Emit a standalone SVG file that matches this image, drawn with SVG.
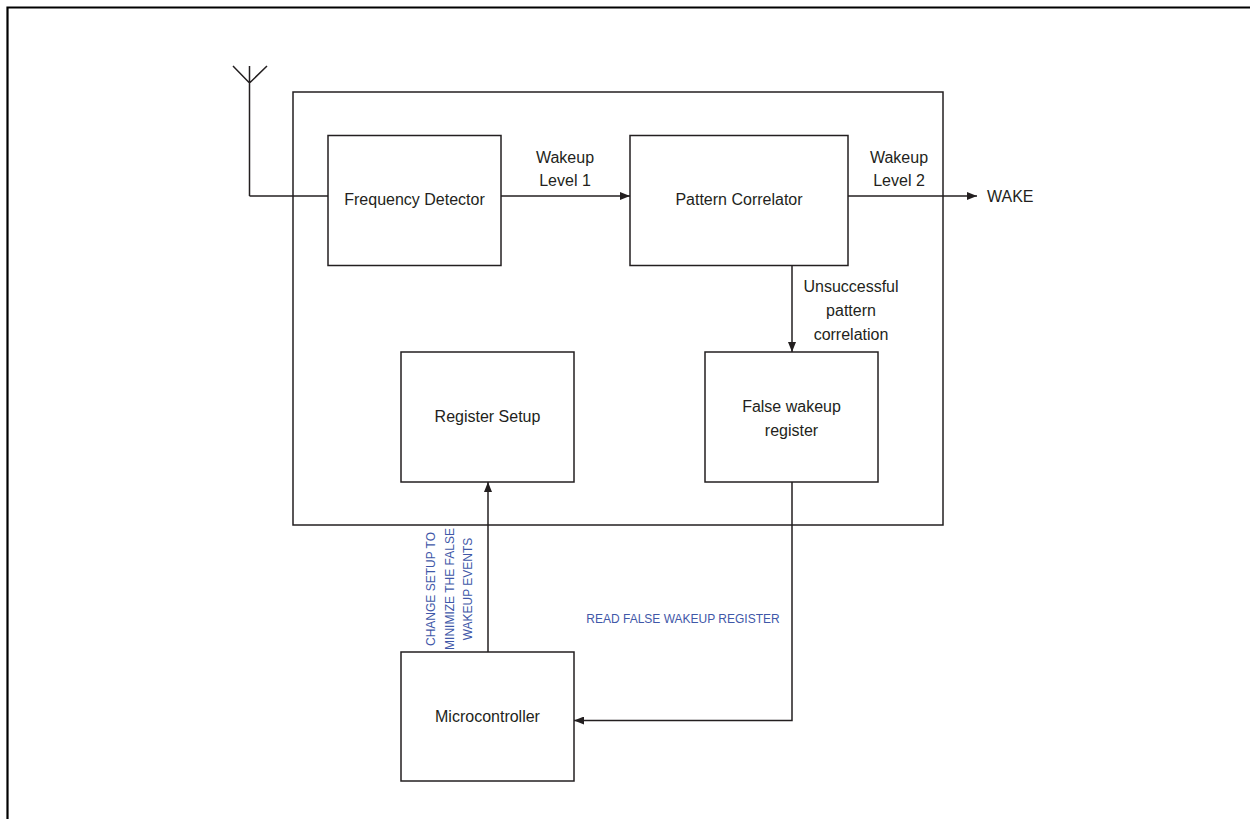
<svg xmlns="http://www.w3.org/2000/svg" width="1250" height="819" viewBox="0 0 1250 819">
<style>
.box{fill:none;stroke:#231f20;stroke-width:1.5}
.ln{fill:none;stroke:#231f20;stroke-width:1.5}
.t{font-family:"Liberation Sans",Arial,sans-serif;font-size:16px;fill:#231f20;text-anchor:middle}
.b{font-family:"Liberation Sans",Arial,sans-serif;font-size:12px;fill:#3f58a8;text-anchor:middle}
</style>
<defs>
<marker id="arr" viewBox="0 0 10 8" refX="10" refY="4" markerWidth="10" markerHeight="8" markerUnits="userSpaceOnUse" orient="auto">
<path d="M0,0 L10,4 L0,8 Z" fill="#231f20"/>
</marker>
</defs>
<rect width="1250" height="819" fill="#ffffff"/>
<path d="M7.5,819 V7.5 H1250" fill="none" stroke="#000" stroke-width="2.2"/>
<g id="main-block"><rect class="box" x="293" y="92" width="650" height="433"/></g>
<g id="antenna"><path class="ln" d="M233,66 L249.5,83 L267,66 M249.5,66 V196"/></g>
<g id="frequency-detector"><rect class="box" x="328" y="135.5" width="173" height="130"/><text class="t" x="414.5" y="205">Frequency Detector</text></g>
<g id="pattern-correlator"><rect class="box" x="630" y="135.5" width="218" height="130"/><text class="t" x="739" y="205">Pattern Correlator</text></g>
<g id="register-setup"><rect class="box" x="401" y="352" width="173" height="130"/><text class="t" x="487.5" y="422">Register Setup</text></g>
<g id="false-wakeup-register"><rect class="box" x="705" y="352" width="173" height="130"/><text class="t" x="791.5" y="412">False wakeup</text><text class="t" x="791.5" y="436">register</text></g>
<g id="microcontroller"><rect class="box" x="401" y="652" width="173" height="129"/><text class="t" x="487.5" y="722">Microcontroller</text></g>
<g id="wake-output"><text class="t" x="987" y="202" style="text-anchor:start">WAKE</text></g>
<g id="connectors">
<path class="ln" d="M249.5,196 H328"/>
<path class="ln" d="M501,196 H630" marker-end="url(#arr)"/>
<text class="t" x="565" y="163">Wakeup</text>
<text class="t" x="565" y="186">Level 1</text>
<path class="ln" d="M848,196 H977" marker-end="url(#arr)"/>
<text class="t" x="899" y="163">Wakeup</text>
<text class="t" x="899" y="186">Level 2</text>
<path class="ln" d="M792,265.5 V352" marker-end="url(#arr)"/>
<text class="t" x="851" y="292">Unsuccessful</text>
<text class="t" x="851" y="316">pattern</text>
<text class="t" x="851" y="340">correlation</text>
<path class="ln" d="M488,652 V482" marker-end="url(#arr)"/>
<g transform="translate(0,589) rotate(-90)">
<text class="b" x="0" y="435">CHANGE SETUP TO</text>
<text class="b" x="0" y="453.5">MINIMIZE THE FALSE</text>
<text class="b" x="0" y="472">WAKEUP EVENTS</text>
</g>
<path class="ln" d="M792,482 V720.5 H574" marker-end="url(#arr)"/>
<text class="b" x="683" y="623">READ FALSE WAKEUP REGISTER</text>
</g>
</svg>
